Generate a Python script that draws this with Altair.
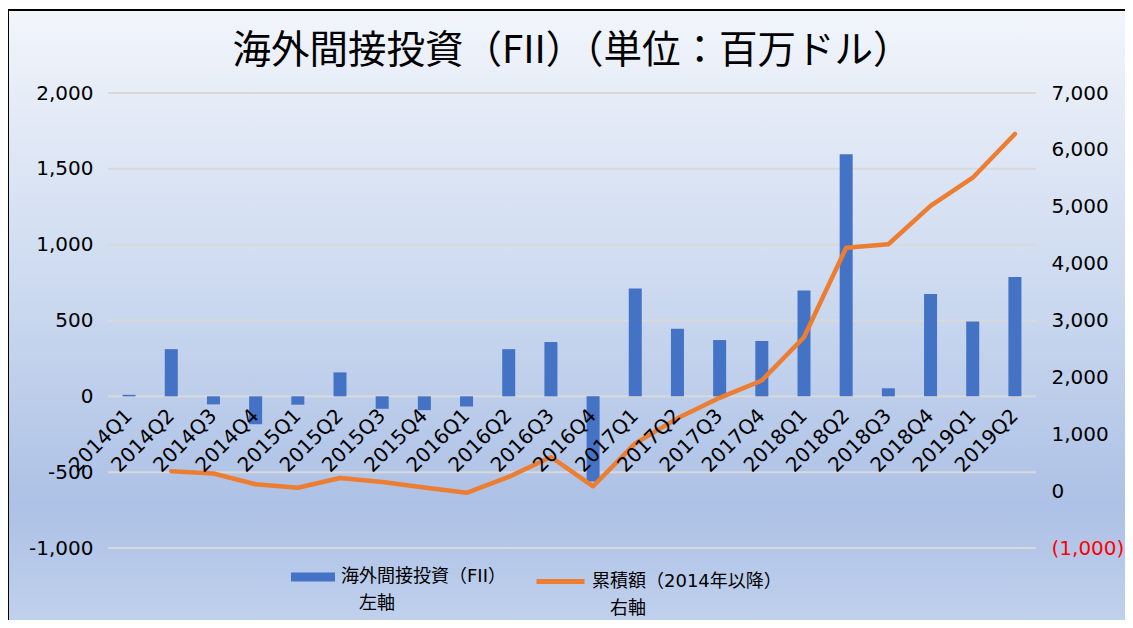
import altair as alt
import pandas as pd

quarters = ["2014Q1", "2014Q2", "2014Q3", "2014Q4", "2015Q1", "2015Q2", "2015Q3", "2015Q4",
            "2016Q1", "2016Q2", "2016Q3", "2016Q4", "2017Q1", "2017Q2", "2017Q3", "2017Q4",
            "2018Q1", "2018Q2", "2018Q3", "2018Q4", "2019Q1", "2019Q2"]
fii = [10, 311, -53, -184, -55, 158, -82, -91, -67, 311, 358, -562,
       711, 445, 371, 365, 697, 1596, 53, 675, 493, 786]
cumulative = [None, 350, 310, 120, 60, 230, 160, 65, -30, 250, 600, 85,
              840, 1280, 1640, 1945, 2705, 4280, 4340, 5015, 5510, 6280]
left_ticks = [-1000, -500, 0, 500, 1000, 1500, 2000]
right_ticks = [-1000, 0, 1000, 2000, 3000, 4000, 5000, 6000, 7000]

title_text = "海外間接投資（FII）（単位：百万ドル）"
bar_label = "海外間接投資（FII）|\u200b\u3000左軸"
line_label = "累積額（2014年以降）|\u200b\u3000右軸"

W, H = 928, 455
BLUE, ORANGE = "#4472C4", "#ED7D31"
NUM_FONT = "DejaVu Sans"
JP_FONT = "Noto Sans CJK JP"
LEG_FONT = "DejaVu Sans, Noto Sans CJK JP"

df = pd.DataFrame({"q": quarters, "fii": fii, "cum": cumulative,
                   "s1": bar_label, "s2": line_label})
grid_df = pd.DataFrame({"v": left_ticks})
bg_df = pd.DataFrame({"k": [0]})

gradient = alt.LinearGradient(
    gradient="linear", x1=0, y1=0, x2=0, y2=1,
    stops=[alt.GradientStop(offset=0, color="#f2f5fb"),
           alt.GradientStop(offset=0.47, color="#cad8ef"),
           alt.GradientStop(offset=0.79, color="#adc1e6"),
           alt.GradientStop(offset=1, color="#c3d3ee")])

bg = alt.Chart(bg_df).mark_rect(fill=gradient, stroke="black", strokeWidth=2).encode(
    x=alt.value(-100), x2=alt.value(W + 150), y=alt.value(-83), y2=alt.value(H + 90))

rules = alt.Chart(grid_df).mark_rule(color="#d9d9d9", strokeWidth=2).encode(
    y=alt.Y("v:Q", scale=alt.Scale(domain=[-1000, 2000]), axis=None),
    x=alt.value(0), x2=alt.value(W))

x_axis = alt.Axis(title=None, orient="bottom", offset=-151.7, domain=False, ticks=False,
                  grid=False, labelAngle=-45, labelAlign="right", labelBaseline="middle",
                  labelFont=NUM_FONT, labelFontSize=20, labelColor="black",
                  labelPadding=16, labelOverlap=False, zindex=1)

bars = alt.Chart(df).mark_bar(size=13, color=BLUE).encode(
    x=alt.X("q:N", sort=quarters, scale=alt.Scale(paddingInner=0, paddingOuter=0), axis=x_axis),
    y=alt.Y("fii:Q", scale=alt.Scale(domain=[-1000, 2000]),
            axis=alt.Axis(orient="left", values=left_ticks, title=None, domain=False,
                          ticks=False, grid=False, labelFont=NUM_FONT, labelFontSize=20,
                          labelColor="black", labelPadding=15, labelAlign="right", zindex=1,
                          labelExpr="datum.value < 0 ? '-' + format(-datum.value, ',') : format(datum.value, ',')")),
    color=alt.Color("s1:N", scale=alt.Scale(range=[BLUE]),
                    legend=alt.Legend(orient="none", legendX=183, legendY=462, title=None,
                                      symbolType="M-1,-0.2L1,-0.2L1,0.2L-1,0.2Z",
                                      symbolSize=1936, symbolStrokeWidth=0,
                                      labelFont=LEG_FONT, labelFontSize=18, labelColor="black",
                                      labelOffset=6, labelLimit=400, padding=0,
                                      labelExpr="split(datum.label, '|')")))

line = alt.Chart(df).mark_line(strokeWidth=4.5, strokeCap="round", strokeJoin="round").encode(
    x=alt.X("q:N", sort=quarters, axis=x_axis),
    y=alt.Y("cum:Q", scale=alt.Scale(domain=[-1000, 7000]),
            axis=alt.Axis(orient="right", values=right_ticks, title=None, domain=False,
                          ticks=False, grid=False, labelFont=NUM_FONT, labelFontSize=20,
                          labelPadding=15, labelAlign="left", zindex=1,
                          labelColor={"condition": {"test": "datum.value < 0", "value": "red"},
                                      "value": "black"},
                          labelExpr="datum.value < 0 ? '(' + format(-datum.value, ',') + ')' : format(datum.value, ',')")),
    stroke=alt.Stroke("s2:N", scale=alt.Scale(range=[ORANGE]),
                      legend=alt.Legend(orient="none", legendX=426, legendY=462, title=None,
                                        symbolType="stroke", symbolSize=2304,
                                        symbolStrokeWidth=5,
                                        labelFont=LEG_FONT, labelFontSize=18, labelColor="black",
                                        labelOffset=5, labelLimit=400, padding=0,
                                        labelExpr="split(datum.label, '|')")))

chart = alt.layer(bg, rules, bars, line).resolve_scale(
    y="independent", color="independent", stroke="independent"
).properties(
    width=W, height=H,
    padding={"left": 100, "top": 85, "right": 89, "bottom": 72},
    autosize=alt.AutoSizeParams(type="none"),
    title=alt.TitleParams(text=title_text, font=JP_FONT, fontSize=38.5, fontWeight="normal",
                          color="black", anchor="middle", frame="group", offset=-62, dx=0),
).configure(
    style={"guide-label": {"lineHeight": 27}}
).configure_view(stroke=None)

chart.save("out.html", embed_options={"renderer": "svg", "actions": False})
